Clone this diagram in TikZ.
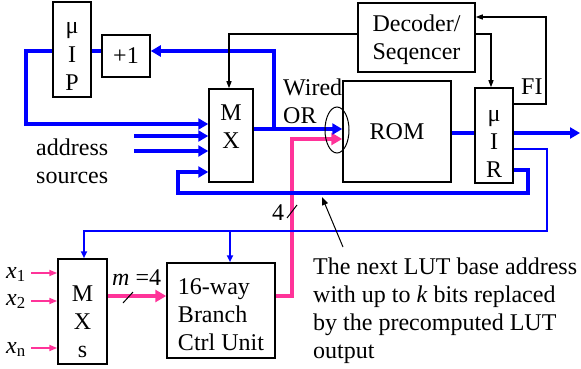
\documentclass[tikz,border=0pt]{standalone}
\usepackage{fontspec}
\setmainfont{Liberation Serif}
\usetikzlibrary{arrows.meta,positioning}
\definecolor{busblue}{rgb}{0,0,1}
\definecolor{buspink}{rgb}{1,0.2,0.6}
\newcommand{\figfont}{\fontsize{24}{28}\selectfont}

\begin{document}
\begin{tikzpicture}[x=1pt, y=-1pt,
    box/.style={draw, line width=1.5pt, inner sep=0pt, fill=white,
                font=\figfont, align=center},
    lbl/.style={font=\figfont, inner sep=0pt},
    bbus/.style={-{Triangle[length=10pt,width=11pt]}, line width=3.5pt, color=busblue},
    bthin/.style={-{Triangle[length=7pt,width=6pt]}, line width=1.8pt, color=busblue},
    pbus/.style={-{Triangle[length=11pt,width=12pt]}, line width=3.5pt, color=buspink},
    pthin/.style={-{Triangle[length=8pt,width=6pt]}, line width=1.8pt, color=buspink},
    ctl/.style={-{Triangle[length=7pt,width=5pt]}, line width=1.2pt}
  ]
    \useasboundingbox (0,0) rectangle (581,369);
    \node[box, minimum width=38pt, minimum height=95pt]  (mip) at (72,49.5)   {\rule{0pt}{25pt}μ\\I\\P};
    \node[box, minimum width=48pt, minimum height=42pt]  (inc) at (126,56)    {+1};
    \node[box, minimum width=44pt, minimum height=93pt]  (mx)  at (231,135.5) {M\\X\rule[-18pt]{0pt}{18pt}};
    \node[box, minimum width=117pt, minimum height=69pt] (dec) at (416.5,37.5) {\rule{0pt}{21pt}Decoder/\\Seqencer};
    \node[box, minimum width=108pt, minimum height=101pt] (rom) at (397,131.5) {ROM};
    \node[box, minimum width=38pt, minimum height=95pt]  (mir) at (494,135.5) {\rule{0pt}{27pt}μ\\I\\R};
    \node[box, minimum width=49pt, minimum height=105pt] (mxs) at (82.5,311.5) {\rule{0pt}{36pt}M\\X\\s};
    \node[box, minimum width=108pt, minimum height=95pt, align=left] (bcu) at (221,310.5)
         {\rule{0pt}{24pt}16-way\\Branch\\Ctrl Unit};

    \coordinate (fbr) at (274,51);
    \coordinate (fbj) at (274,129);
    \coordinate (lft) at (26,124);
    \coordinate (as1) at (134,136);
    \coordinate (as2) at (134,151);
    \coordinate (c1) at (528,170);
    \coordinate (c2) at (528,193);
    \coordinate (c3) at (178,193);
    \coordinate (c4) at (178,172);
    \coordinate (mo) at (580,133);
    \coordinate (t1) at (547,149);
    \coordinate (t2) at (547,231);
    \coordinate (t3) at (84,231);
    \coordinate (t4) at (230,231);
    \coordinate (k1) at (229,34);
    \coordinate (k2) at (491,34);
    \coordinate (k3) at (546,104);
    \coordinate (k4) at (546,17);
    \coordinate (p1) at (292,296);
    \coordinate (p2) at (292,139);
    \coordinate (xi1) at (31,273);
    \coordinate (xi2) at (31,301);
    \coordinate (xin) at (31,348);
    \coordinate (nt) at (322,197);
    \coordinate (nb) at (343,247);

    \draw[pbus] (bcu.east |- p1) -- (p1) -- (p2) -- (rom.west |- p2);
    \draw[pbus] (mxs.east |- p1) -- (bcu.west |- p1);
    \draw[pthin] (xi1) -- (mxs.west |- xi1);
    \draw[pthin] (xi2) -- (mxs.west |- xi2);
    \draw[pthin] (xin) -- (mxs.west |- xin);

    \draw[bbus] (mx.east |- fbj) -- (rom.west |- fbj);
    \draw[bbus] (fbj) -- (fbr) -- (inc.east |- fbr);
    \draw[bbus, -] (inc.west |- fbr) -- (mip.east |- fbr);
    \draw[bbus] (mip.west |- fbr) -| (lft) -- (mx.west |- lft);
    \draw[bbus] (as1) -- (mx.west |- as1);
    \draw[bbus] (as2) -- (mx.west |- as2);
    \draw[bbus] (mir.east |- c1) -- (c1) -- (c2) -- (c3) -- (c4) -- (mx.west |- c4);
    \draw[bbus, -] (rom.east |- mo) -- (mir.west |- mo);
    \draw[bbus] (mir.east |- mo) -- (mo);
    \draw[bthin] (mir.east |- t1) -- (t1) -- (t2) -- (t3) -- (t3 |- mxs.north);
    \draw[bthin] (t4) -- (t4 |- bcu.north);

    \draw[ctl] (dec.west |- k1) -- (k1) -- (k1 |- mx.north);
    \draw[ctl] (dec.east |- k2) -- (k2) -- (k2 |- mir.north);
    \draw[ctl] (mir.east |- k3) -- (k3) -- (k4) -- (dec.east |- k4);
    \draw[ctl, line width=1pt, -{Triangle[length=8pt,width=6pt]}] (nb) -- (nt);

    \draw[line width=1pt] (337,130) ellipse [x radius=12pt, y radius=23pt];
    \draw[line width=1pt] (123,303) -- (133,292);
    \draw[line width=1pt] (287,218) -- (297,205);

    \node[lbl, anchor=base west] (fi) at (521,95) {FI};
    \node[lbl, anchor=north west, align=left] (wor) at (283,79) {Wired\\OR};
    \node[lbl, anchor=north west, align=center] (adr) at (36,139) {address\\sources};
    \node[lbl, anchor=base west] (four) at (272,220) {4};
    \node[lbl, anchor=base west] (mw) at (112,285) {\textit{m} =4};
    \node[lbl, anchor=base east] (lx1) at (26,278) {\textit{x}\textsubscript{1}};
    \node[lbl, anchor=base east] (lx2) at (26,305) {\textit{x}\textsubscript{2}};
    \node[lbl, anchor=base east] (lxn) at (26,353) {\textit{x}\textsubscript{n}};
    \node[lbl, anchor=north west, align=left] (note) at (313,258)
         {The next LUT base address\\with up to \textit{k} bits replaced\\by the precomputed LUT\\output};
  \end{tikzpicture}
\end{document}
